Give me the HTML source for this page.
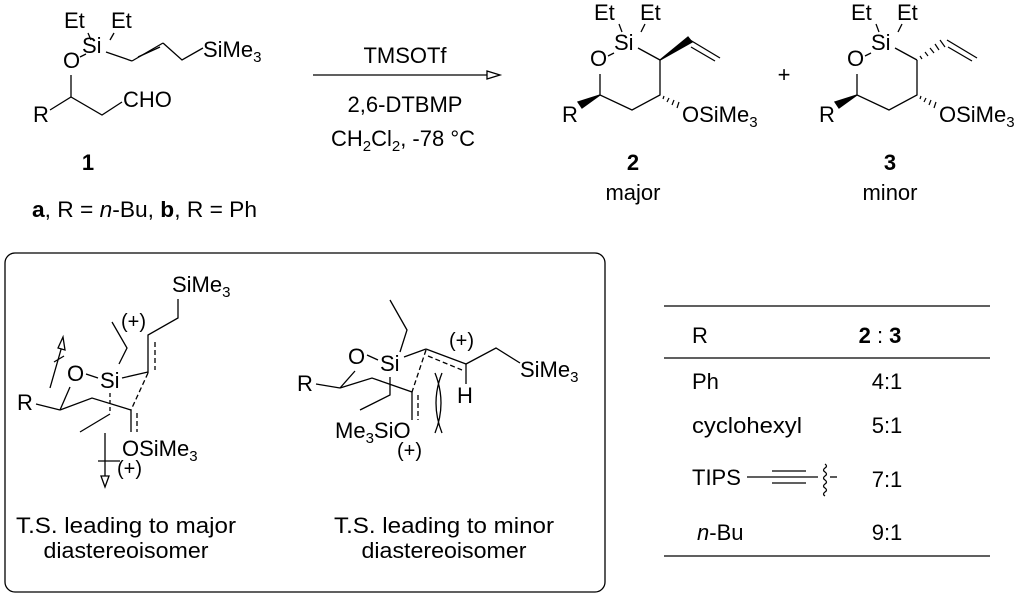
<!DOCTYPE html>
<html><head><meta charset="utf-8"><style>
html,body{margin:0;padding:0;background:#fff;}
svg{display:block;}
text{font-family:"Liberation Sans",Arial,sans-serif;font-size:22px;fill:#000;}
.s{font-size:15px;}
.b{font-weight:bold;}
.p{font-size:20px;}
</style></head><body>
<svg width="1024" height="596" viewBox="0 0 1024 596" xmlns="http://www.w3.org/2000/svg">
<g stroke="#000" stroke-width="1.3" fill="none">
<!-- compound 1 -->
<line x1="88" y1="33" x2="91" y2="40"/><line x1="114" y1="33" x2="110" y2="40"/>
<line x1="80" y1="57" x2="86" y2="54"/>
<line x1="106" y1="52" x2="132" y2="61"/>
<line x1="132" y1="61" x2="163" y2="43"/><line x1="138" y1="57" x2="160" y2="47"/>
<polyline points="163,43 182,60 203,48"/>
<line x1="71" y1="75" x2="71" y2="97"/>
<polyline points="50,110 71,97 102,115 122,102"/>
<!-- arrow -->
<line x1="313" y1="75" x2="490" y2="75"/>
<polygon points="487,71 500,75 487,79" fill="#fff"/>
<!-- compound 2 -->
<line x1="619" y1="24" x2="622" y2="32"/><line x1="645" y1="24" x2="641" y2="32"/>
<line x1="608" y1="56" x2="614" y2="53"/>
<line x1="638" y1="48" x2="660" y2="60"/>
<polygon points="660,60 688,37 692,42" fill="#000"/>
<line x1="690" y1="40" x2="720" y2="58"/><line x1="691" y1="47" x2="715" y2="61"/>
<polyline points="660,60 660,95 632,110 600,95 600,74"/>
<polygon points="600,95 578,102 582,108" fill="#000"/>
<g stroke-width="1.2"><line x1="664" y1="96" x2="663" y2="99"/><line x1="669" y1="98" x2="667" y2="102"/><line x1="674" y1="100" x2="672" y2="105"/><line x1="679" y1="102" x2="677" y2="108"/></g>
<!-- compound 3 -->
<line x1="876" y1="24" x2="879" y2="32"/><line x1="902" y1="24" x2="898" y2="32"/>
<line x1="865" y1="56" x2="871" y2="53"/>
<line x1="895" y1="48" x2="917" y2="60"/>
<g stroke-width="1.2"><line x1="920" y1="56" x2="922" y2="59"/><line x1="925" y1="52" x2="928" y2="56"/><line x1="930" y1="48" x2="934" y2="53"/><line x1="935" y1="44" x2="939" y2="50"/><line x1="940" y1="40" x2="945" y2="47"/></g>
<line x1="947" y1="40" x2="977" y2="58"/><line x1="948" y1="47" x2="972" y2="61"/>
<polyline points="917,60 917,95 889,110 857,95 857,74"/>
<polygon points="857,95 835,102 839,108" fill="#000"/>
<g stroke-width="1.2"><line x1="921" y1="96" x2="920" y2="99"/><line x1="926" y1="98" x2="924" y2="102"/><line x1="931" y1="100" x2="929" y2="105"/><line x1="936" y1="102" x2="934" y2="108"/></g>
<!-- table -->
<line x1="664" y1="306" x2="990" y2="306"/><line x1="664" y1="358" x2="990" y2="358"/><line x1="664" y1="556" x2="990" y2="556"/>
<line x1="747" y1="477" x2="818" y2="477"/><line x1="772" y1="471" x2="806" y2="471"/><line x1="772" y1="483" x2="806" y2="483"/>
<path d="M825,464 q3,2 0,4 q-3,2 0,4 q3,2 0,4 q-3,2 0,4 q3,2 0,4 q-3,2 0,4 q3,2 0,4 q-3,2 0,4"/>
<line x1="830" y1="477" x2="837" y2="477"/>
<!-- box -->
<rect x="5" y="253" width="600" height="339" rx="10"/>
<!-- left TS -->
<polyline points="178,299 178,318 148,335 148,373"/>
<line x1="155" y1="342" x2="155" y2="370" stroke-dasharray="5,3"/>
<line x1="122" y1="378" x2="148" y2="372"/>
<line x1="148" y1="373" x2="131" y2="410" stroke-dasharray="5,3"/>
<polyline points="112,322 127,348 119,364"/>
<line x1="86" y1="374" x2="98" y2="378"/>
<line x1="70" y1="387" x2="60" y2="410"/>
<line x1="36" y1="404" x2="60" y2="410"/>
<polyline points="60,410 92,398 131,410 131,432"/>
<line x1="137" y1="413" x2="137" y2="432" stroke-dasharray="5,3"/>
<line x1="110" y1="393" x2="110" y2="412" stroke-dasharray="4,3"/>
<line x1="110" y1="414" x2="80" y2="432"/>
<line x1="105" y1="433" x2="105" y2="478"/><line x1="98" y1="461" x2="120" y2="461"/>
<polygon points="101,476 105,487 109,476" fill="#fff"/>
<line x1="50" y1="388" x2="62" y2="346"/><line x1="54" y1="362" x2="64" y2="356"/>
<polygon points="58,348 63,337 65,350" fill="#fff"/>
<!-- right TS -->
<polyline points="390,300 407,330 400,352"/>
<line x1="367" y1="355" x2="378" y2="360"/>
<line x1="404" y1="357" x2="426" y2="349"/>
<line x1="426" y1="349" x2="466" y2="364"/>
<line x1="428" y1="356" x2="462" y2="370" stroke-dasharray="5,3"/>
<polyline points="466,364 496,348 520,363"/>
<line x1="466" y1="364" x2="466" y2="384"/>
<line x1="355" y1="371" x2="340" y2="388"/>
<line x1="316" y1="384" x2="340" y2="388"/>
<polyline points="340,388 372,378 412,392 412,420"/>
<line x1="426" y1="350" x2="412" y2="392" stroke-dasharray="5,3"/>
<line x1="418" y1="395" x2="418" y2="420" stroke-dasharray="5,3"/>
<polyline points="390,377 390,395 360,410"/>
<path d="M435,373 Q447,403 435,433 M442,373 Q430,403 442,433"/>
</g>
<!-- compound 1 text -->
<text x="64" y="28">Et</text><text x="111" y="28">Et</text>
<text x="82" y="53">Si</text><text x="63" y="68">O</text>
<text x="203" y="57">SiMe<tspan class="s" dy="5">3</tspan></text>
<text x="33" y="122">R</text><text x="123" y="107">CHO</text>
<text x="88" y="170" class="b" text-anchor="middle">1</text>
<text x="32" y="217" textLength="225" lengthAdjust="spacingAndGlyphs"><tspan class="b">a</tspan>, R = <tspan font-style="italic">n</tspan>-Bu, <tspan class="b">b</tspan>, R = Ph</text>
<text x="405" y="63" text-anchor="middle">TMSOTf</text>
<text x="405" y="112" text-anchor="middle">2,6-DTBMP</text>
<text x="403" y="146" text-anchor="middle">CH<tspan class="s" dy="5">2</tspan><tspan dy="-5">Cl</tspan><tspan class="s" dy="5">2</tspan><tspan dy="-5">, -78 °C</tspan></text>
<!-- compound 2 -->
<text x="594" y="20">Et</text><text x="640" y="20">Et</text>
<text x="614" y="50">Si</text><text x="590" y="66">O</text>
<text x="562" y="122">R</text>
<text x="682" y="122">OSiMe<tspan class="s" dy="5">3</tspan></text>
<text x="633" y="170" class="b" text-anchor="middle">2</text>
<text x="633" y="200" text-anchor="middle">major</text>
<text x="784" y="82" text-anchor="middle">+</text>
<!-- compound 3 -->
<text x="851" y="20">Et</text><text x="897" y="20">Et</text>
<text x="871" y="50">Si</text><text x="847" y="66">O</text>
<text x="819" y="122">R</text>
<text x="939" y="122">OSiMe<tspan class="s" dy="5">3</tspan></text>
<text x="890" y="170" class="b" text-anchor="middle">3</text>
<text x="890" y="200" text-anchor="middle">minor</text>
<!-- table text -->
<text x="692" y="343">R</text>
<text x="880" y="343" text-anchor="middle"><tspan class="b">2</tspan> : <tspan class="b">3</tspan></text>
<text x="692" y="389">Ph</text><text x="887" y="389" text-anchor="middle">4:1</text>
<text x="692" y="433" textLength="110" lengthAdjust="spacingAndGlyphs">cyclohexyl</text><text x="887" y="433" text-anchor="middle">5:1</text>
<text x="692" y="485">TIPS</text><text x="887" y="487" text-anchor="middle">7:1</text>
<text x="697" y="540"><tspan font-style="italic">n</tspan>-Bu</text><text x="887" y="540" text-anchor="middle">9:1</text>
<!-- left TS text -->
<text x="172" y="292">SiMe<tspan class="s" dy="5">3</tspan></text>
<text x="121" y="328" class="p">(+)</text>
<text x="67" y="381">O</text><text x="100" y="388">Si</text>
<text x="17" y="410">R</text>
<text x="122" y="456">OSiMe<tspan class="s" dy="5">3</tspan></text>
<text x="117" y="475" class="p">(+)</text>
<!-- right TS text -->
<text x="348" y="364">O</text><text x="380" y="371">Si</text>
<text x="449" y="347" class="p">(+)</text>
<text x="520" y="377">SiMe<tspan class="s" dy="5">3</tspan></text>
<text x="457" y="403">H</text>
<text x="297" y="391">R</text>
<text x="335" y="438">Me<tspan class="s" dy="5">3</tspan><tspan dy="-5">SiO</tspan></text>
<text x="397" y="457" class="p">(+)</text>
<text x="126" y="533" text-anchor="middle" textLength="220" lengthAdjust="spacingAndGlyphs">T.S. leading to major</text>
<text x="126" y="558" text-anchor="middle" textLength="165" lengthAdjust="spacingAndGlyphs">diastereoisomer</text>
<text x="444" y="533" text-anchor="middle" textLength="220" lengthAdjust="spacingAndGlyphs">T.S. leading to minor</text>
<text x="444" y="558" text-anchor="middle" textLength="165" lengthAdjust="spacingAndGlyphs">diastereoisomer</text>
</svg>
</body></html>
